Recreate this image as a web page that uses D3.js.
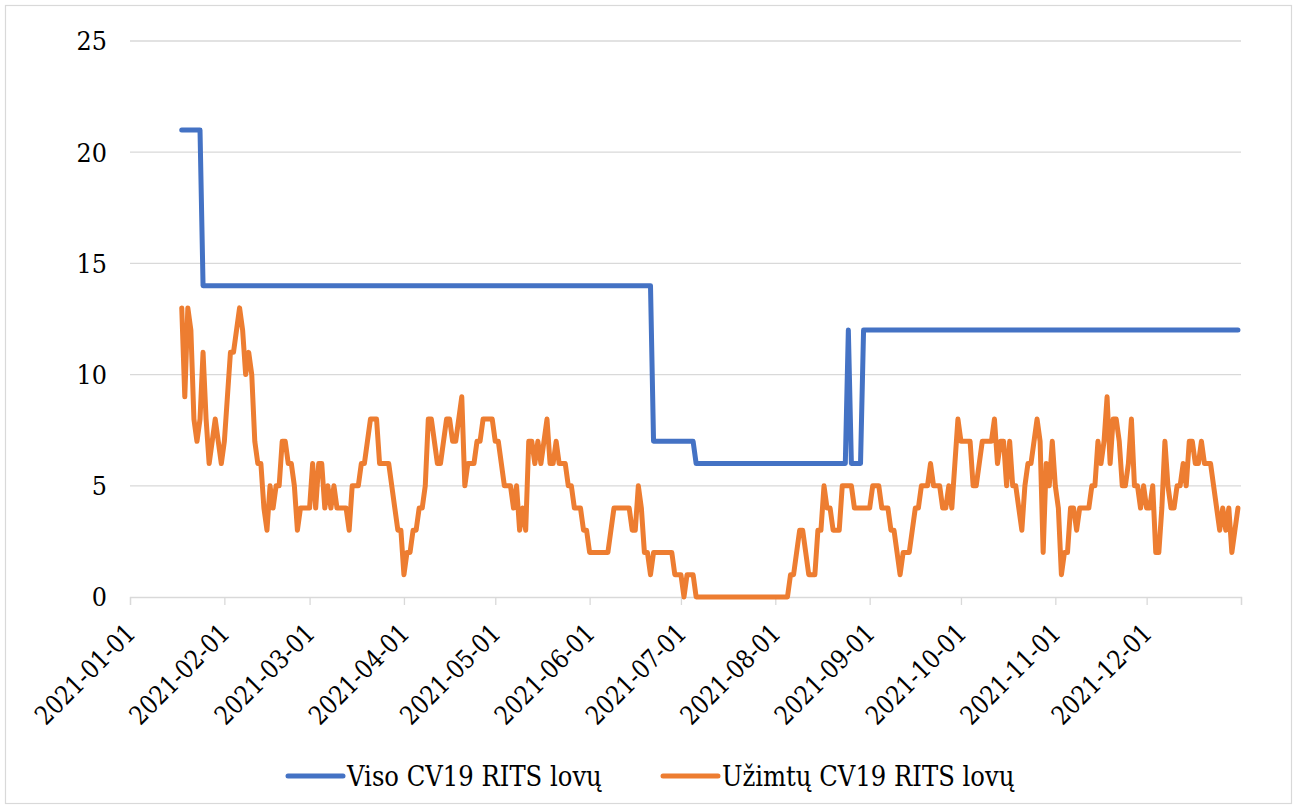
<!DOCTYPE html>
<html>
<head>
<meta charset="utf-8">
<title>CV19 RITS lovos 2021</title>
<style>
  body { margin: 0; background: #fff; }
  svg text { font-family: "DejaVu Serif", serif; fill: #000; }
</style>
</head>
<body>
<svg id="chart" width="1297" height="809"></svg>
<script src="https://cdn.jsdelivr.net/npm/d3@7"></script>
<script>
// daily values, first day 2021-01-18, last day 2021-12-31
var firstDay = "2021-01-18";
var lastDay = "2021-12-31";

// Viso CV19 RITS lovų (by month)
var totalJan = [21,21,21,21,21,21,21, 14,14,14,14,14,14,14];
var totalFeb = [14,14,14,14,14,14,14, 14,14,14,14,14,14,14, 14,14,14,14,14,14,14, 14,14,14,14,14,14,14];
var totalMar = [14,14,14,14,14,14,14, 14,14,14,14,14,14,14, 14,14,14,14,14,14,14, 14,14,14,14,14,14,14, 14,14,14];
var totalApr = [14,14,14,14,14,14,14, 14,14,14,14,14,14,14, 14,14,14,14,14,14,14, 14,14,14,14,14,14,14, 14,14];
var totalMay = [14,14,14,14,14,14,14, 14,14,14,14,14,14,14, 14,14,14,14,14,14,14, 14,14,14,14,14,14,14, 14,14,14];
var totalJun = [14,14,14,14,14,14,14, 14,14,14,14,14,14,14, 14,14,14,14,14,14,14, 7,7,7,7,7,7,7, 7,7];
var totalJul = [7,7,7,7,7, 6,6,6,6,6,6,6,6,6,6, 6,6,6,6,6,6,6,6,6,6, 6,6,6,6,6,6];
var totalAug = [6,6,6,6,6,6,6,6,6,6, 6,6,6,6,6,6,6,6,6,6, 6,6,6,6, 12, 6,6,6,6, 12,12];
var totalSep = [12,12,12,12,12,12,12,12,12,12, 12,12,12,12,12,12,12,12,12,12, 12,12,12,12,12,12,12,12,12,12];
var totalOct = [12,12,12,12,12,12,12,12,12,12, 12,12,12,12,12,12,12,12,12,12, 12,12,12,12,12,12,12,12,12,12, 12];
var totalNov = [12,12,12,12,12,12,12,12,12,12, 12,12,12,12,12,12,12,12,12,12, 12,12,12,12,12,12,12,12,12,12];
var totalDec = [12,12,12,12,12,12,12,12,12,12, 12,12,12,12,12,12,12,12,12,12, 12,12,12,12,12,12,12,12,12,12, 12];

// Užimtų CV19 RITS lovų (by month)
var usedJan = [13,9,13,12,8,7,8,11,8,6,7,8,7,6];
var usedFeb = [7,9,11,11,12,13,12,10,11,10,7,6,6,4,3,5,4,5,5,7,7,6,6,5,3,4,4,4];
var usedMar = [4,6,4,6,6,4,5,4,5,4,4,4,4,3,5,5,5,6,6,7,8,8,8,6,6,6,6,5,4,3,3];
var usedApr = [1,2,2,3,3,4,4,5,8,8,7,6,6,7,8,8,7,7,8,9,5,6,6,6,7,7,8,8,8,8];
var usedMay = [7,7,6,5,5,5,4,5,3,4,3,7,7,6,7,6,7,8,6,6,7,6,6,6,5,5,4,4,4,3,3];
var usedJun = [2,2,2,2,2,2,2,3,4,4,4,4,4,4,3,3,5,4,2,2,1,2,2,2,2,2,2,2,1,1];
var usedJul = [1,0,1,1,1,0,0,0,0,0,0,0,0,0,0,0,0,0,0,0,0,0,0,0,0,0,0,0,0,0,0];
var usedAug = [0,0,0,0,0,1,1,2,3,3,2,1,1,1,3,3,5,4,4,3,3,3,5,5,5,5,4,4,4,4,4];
var usedSep = [4,5,5,5,4,4,4,3,3,2,1,2,2,2,3,4,4,5,5,5,6,5,5,5,4,4,5,4,6,8];
var usedOct = [7,7,7,7,5,5,6,7,7,7,7,8,6,7,7,5,7,5,5,4,3,5,6,6,7,8,7,2,6,5,7];
var usedNov = [5,4,1,2,2,4,4,3,4,4,4,4,5,5,7,6,7,9,6,8,8,7,5,5,6,8,5,5,4,5];
var usedDec = [4,4,5,2,2,4,7,5,4,4,5,5,6,5,7,7,6,6,7,6,6,6,5,4,3,4,3,4,2,3,4];

var yTicks = [0, 5, 10, 15, 20, 25];
var seriesNames = ["Viso CV19 RITS lovų", "Užimtų CV19 RITS lovų"];
var seriesColors = ["#4472C4", "#ED7D31"];

var total = [].concat(totalJan, totalFeb, totalMar, totalApr, totalMay, totalJun,
                      totalJul, totalAug, totalSep, totalOct, totalNov, totalDec);
var used = [].concat(usedJan, usedFeb, usedMar, usedApr, usedMay, usedJun,
                     usedJul, usedAug, usedSep, usedOct, usedNov, usedDec);

var parse = d3.timeParse("%Y-%m-%d");
var days = d3.timeDay.range(parse(firstDay), d3.timeDay.offset(parse(lastDay), 1));

// narrow the wide DejaVu glyphs down to the width of the original serif text
function squeeze(sel, k) {
    sel.each(function () {
        var w = this.getComputedTextLength();
        d3.select(this)
            .attr("textLength", w * k)
            .attr("lengthAdjust", "spacingAndGlyphs");
    });
}

var svg = d3.select("#chart");

// chart border
svg.append("rect")
    .attr("x", 5.5).attr("y", 5.5)
    .attr("width", 1286).attr("height", 798)
    .attr("fill", "#fff")
    .attr("stroke", "#d9d9d9")
    .attr("stroke-width", 1.2);

var x = d3.scaleTime()
    .domain([parse("2021-01-01"), parse("2022-01-01")])
    .range([130, 1241]);

var y = d3.scaleLinear()
    .domain([0, 25])
    .range([597, 41]);

// horizontal grid
svg.append("g")
    .selectAll("line")
    .data(yTicks.filter(function (d) { return d > 0; }))
    .enter()
    .append("line")
    .attr("x1", x.range()[0]).attr("x2", x.range()[1])
    .attr("y1", function (d) { return y(d); })
    .attr("y2", function (d) { return y(d); })
    .attr("stroke", "#d9d9d9")
    .attr("stroke-width", 1.3);

// y labels
svg.append("g")
    .selectAll("text")
    .data(yTicks)
    .enter()
    .append("text")
    .attr("x", 107)
    .attr("y", function (d) { return y(d); })
    .attr("dy", "0.36em")
    .attr("text-anchor", "end")
    .style("font-size", "26px")
    .text(function (d) { return d; })
    .call(squeeze, 0.92);

// x axis
var xAxis = d3.axisBottom(x)
    .ticks(d3.timeMonth.every(1))
    .tickSize(8)
    .tickFormat("");

var gx = svg.append("g")
    .attr("transform", "translate(0," + y(0) + ")")
    .call(xAxis);
gx.select(".domain").attr("stroke", "#d9d9d9").attr("stroke-width", 1.3);
gx.selectAll(".tick line").attr("stroke", "#d9d9d9").attr("stroke-width", 1.3);

var monthTicks = d3.timeMonth.range(parse("2021-01-01"), parse("2022-01-01"));
var fmt = d3.timeFormat("%Y-%m-%d");

svg.append("g")
    .selectAll("text")
    .data(monthTicks)
    .enter()
    .append("text")
    .attr("transform", function (d) {
        return "translate(" + (x(d) + 7) + ",635) rotate(-45)";
    })
    .attr("text-anchor", "end")
    .style("font-size", "26px")
    .text(function (d) { return fmt(d); })
    .call(squeeze, 0.86);

// lines
var line = d3.line()
    .x(function (d) { return x(d[0]); })
    .y(function (d) { return y(d[1]); });

var seriesData = [
    days.map(function (d, i) { return [d, total[i]]; }),
    days.map(function (d, i) { return [d, used[i]]; })
];

svg.append("g")
    .selectAll("path")
    .data(seriesData)
    .enter()
    .append("path")
    .attr("d", line)
    .attr("fill", "none")
    .attr("stroke", function (d, i) { return seriesColors[i]; })
    .attr("stroke-width", 5)
    .attr("stroke-linejoin", "round")
    .attr("stroke-linecap", "round");

// legend
var legendX = [288, 663];
var leg = svg.append("g")
    .selectAll("g")
    .data(seriesNames)
    .enter()
    .append("g")
    .attr("transform", function (d, i) { return "translate(" + legendX[i] + ",776)"; });

leg.append("line")
    .attr("x1", 0).attr("x2", 55)
    .attr("y1", 0).attr("y2", 0)
    .attr("stroke", function (d, i) { return seriesColors[i]; })
    .attr("stroke-width", 5)
    .attr("stroke-linecap", "round");

leg.append("text")
    .attr("x", 59)
    .attr("y", 10)
    .style("font-size", "27px")
    .text(function (d) { return d; })
    .call(squeeze, 0.9);
</script>
</body>
</html>
